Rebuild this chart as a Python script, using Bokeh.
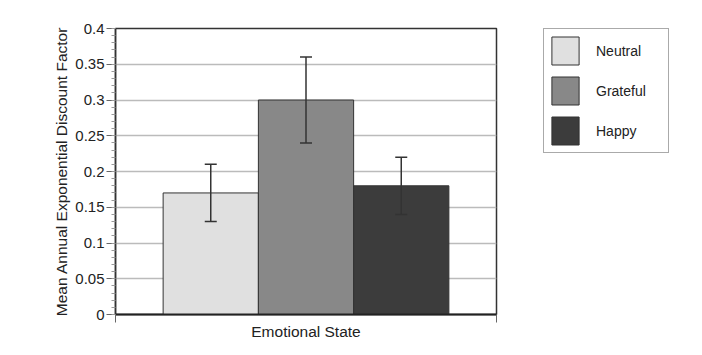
from bokeh.plotting import figure
from bokeh.layouts import row
from bokeh.models import (ColumnDataSource, FixedTicker, Whisker, Legend, LegendItem,
                          TeeHead, Range1d)
from bokeh.embed import file_html
from bokeh.resources import INLINE

# Data
categories = ["Neutral", "Grateful", "Happy"]
means = [0.17, 0.30, 0.18]
lower = [0.13, 0.24, 0.14]
upper = [0.21, 0.36, 0.22]
colors = ["#e0e0e0", "#888888", "#3c3c3c"]
positions = [1, 2, 3]
y_ticks = [0, 0.05, 0.1, 0.15, 0.2, 0.25, 0.3, 0.35, 0.4]
y_tick_labels = ["0", "0.05", "0.1", "0.15", "0.2", "0.25", "0.3", "0.35", "0.4"]
y_minor_ticks = [round(i * 0.01, 2) for i in range(41)]

FONT = "Liberation Sans"
TXT = "#222222"

p = figure(width=498, height=355, output_backend="svg", toolbar_location=None,
           x_range=Range1d(0, 4), y_range=Range1d(0, 0.4),
           min_border_left=115, min_border_right=2, min_border_top=28,
           min_border_bottom=41)

src = ColumnDataSource(dict(x=positions, top=means, lower=lower, upper=upper))

p.background_fill_color = "white"
p.border_fill_color = "white"
p.outline_line_color = "#333333"
p.outline_line_width = 1.5

p.xgrid.visible = False
p.ygrid.ticker = FixedTicker(ticks=y_ticks)
p.ygrid.grid_line_color = "#bbbbbb"
p.ygrid.grid_line_width = 1.5

bar_sources = []
for i in range(3):
    s = ColumnDataSource(dict(x=[positions[i]], top=[means[i]]))
    bar_sources.append(s)
    p.vbar(x="x", top="top", bottom=0, width=1.0, source=s,
           fill_color=colors[i], line_color="#333333", line_width=1)

w = Whisker(base="x", lower="lower", upper="upper", source=src,
            line_color="#333333", line_width=1.5, level="overlay",
            upper_head=TeeHead(size=12, line_color="#333333", line_width=1.5),
            lower_head=TeeHead(size=12, line_color="#333333", line_width=1.5))
p.add_layout(w)

# Y axis
ya = p.yaxis[0]
ya.ticker = FixedTicker(ticks=y_ticks, minor_ticks=y_minor_ticks)
ya.major_label_overrides = {t: l for t, l in zip(y_ticks, y_tick_labels)}
ya.axis_label = "Mean Annual Exponential Discount Factor"
ya.axis_label_text_font = FONT
ya.axis_label_text_font_size = "15.5px"
ya.axis_label_text_font_style = "normal"
ya.axis_label_text_color = TXT
ya.axis_label_standoff = 2
ya.major_label_text_font = FONT
ya.major_label_text_font_size = "15px"
ya.major_label_text_color = TXT
ya.major_label_standoff = 2
ya.major_tick_out = 9
ya.major_tick_in = 0
ya.minor_tick_out = 4
ya.minor_tick_in = 0
ya.axis_line_color = "#333333"
ya.axis_line_width = 1.5
ya.major_tick_line_color = "#666666"
ya.minor_tick_line_color = "#999999"

# X axis
xa = p.xaxis[0]
xa.ticker = FixedTicker(ticks=[0, 4])
xa.major_label_text_font_size = "0px"
xa.major_label_text_alpha = 0
xa.major_tick_out = 8
xa.major_tick_in = 0
xa.minor_tick_line_color = None
xa.axis_line_color = "#222222"
xa.axis_line_width = 2
xa.major_tick_line_color = "#666666"
xa.axis_label = "Emotional State"
xa.axis_label_text_font = FONT
xa.axis_label_text_font_size = "15.5px"
xa.axis_label_text_font_style = "normal"
xa.axis_label_text_color = TXT
xa.axis_label_standoff = 0

# Legend panel: the bars lie left of its visible x range (their clipped edge
# falls under the legend box), so only the legend swatches show.
lg = figure(width=204, height=355, output_backend="svg", toolbar_location=None,
            x_range=Range1d(100, 101), y_range=Range1d(-1.5, 0.4),
            x_axis_location=None, y_axis_location=None,
            min_border_left=45, min_border_top=28, min_border_right=0,
            min_border_bottom=41)
lg.grid.visible = False
lg.outline_line_color = None
lg.background_fill_color = "white"
lg.border_fill_color = "white"

items = []
for i in range(3):
    r = lg.vbar(x="x", top="top", bottom=0, width=1.0, source=bar_sources[i],
                fill_color=colors[i], line_color="#333333", line_width=1)
    items.append(LegendItem(label=categories[i], renderers=[r]))

legend = Legend(items=items, location="top_left",
                glyph_width=34, glyph_height=35, label_height=35,
                label_standoff=14, label_width=68, spacing=5, padding=4,
                label_text_font=FONT, label_text_font_size="14px",
                label_text_color=TXT, margin=0,
                border_line_color="#555555", border_line_width=1.5,
                background_fill_color="white", background_fill_alpha=1)
lg.add_layout(legend)

layout = row(p, lg, spacing=0)
open("out.html", "w").write(file_html(layout, INLINE))
